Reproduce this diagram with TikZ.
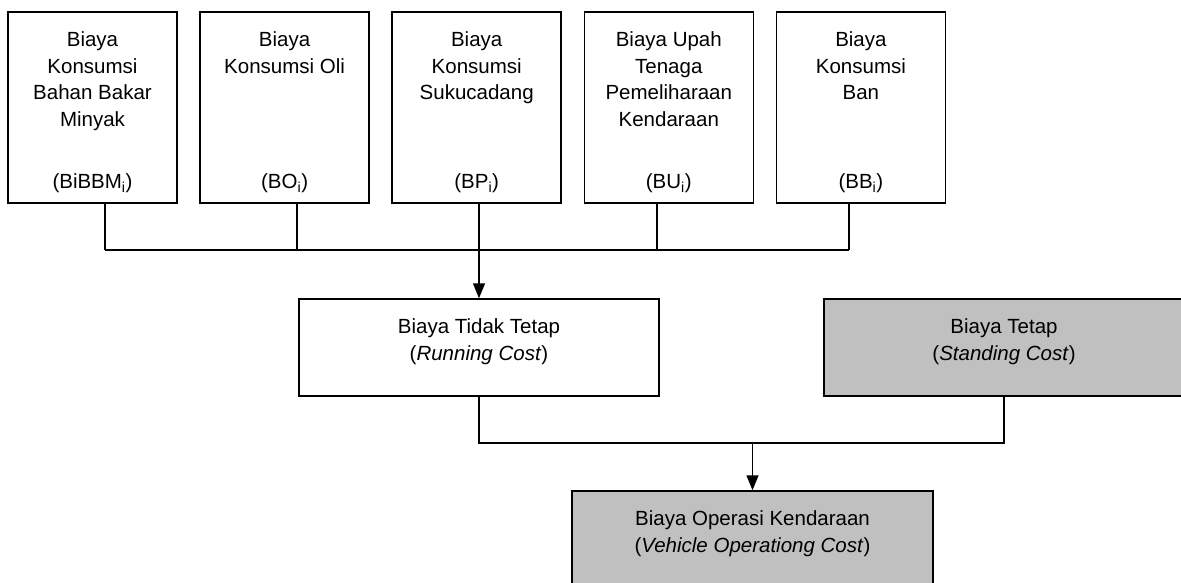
\documentclass[tikz,border=0pt]{standalone}
\usepackage{fontspec}
\setmainfont{Liberation Sans}
\usepackage{xcolor}
\usetikzlibrary{arrows.meta}
\definecolor{boxgray}{RGB}{192,192,192}

\begin{document}
\begin{tikzpicture}[x=1pt,y=-1pt,line width=1.5pt,
    topbox/.style={draw,minimum width=169pt,minimum height=191pt,inner sep=0pt},
    box/.style={draw,minimum width=#1,minimum height=97pt,inner sep=0pt},
    title/.style={anchor=north,align=center,inner sep=0pt,font=\fontsize{20.5}{26.5}\selectfont},
    code/.style={anchor=base,inner sep=0pt,font=\fontsize{20.5}{26.5}\selectfont},
    arr/.style={-{Triangle[length=15pt,width=12pt]}}]
  \useasboundingbox (0,0) rectangle (1181,582);
  \clip (0,0) rectangle (1181,582);
  \foreach \n/\x/\t/\c in {
      bbm/92.5/{Biaya\\Konsumsi\\Bahan Bakar\\Minyak}/{(BiBBM\textsubscript{i})},
      oli/284.6/{Biaya\\Konsumsi Oli}/{(BO\textsubscript{i})},
      suku/476.7/{Biaya\\Konsumsi\\Sukucadang}/{(BP\textsubscript{i})},
      upah/668.8/{Biaya Upah\\Tenaga\\Pemeliharaan\\Kendaraan}/{(BU\textsubscript{i})},
      ban/860.9/{Biaya\\Konsumsi\\Ban}/{(BB\textsubscript{i})}} {
    \node[topbox] (\n) at (\x,107.5) {};
    \node[title] (\n-t) at ([yshift=-20pt]\n.north) {\t};
    \node[code] (\n-c) at ([yshift=15pt]\n.south) {\c};
  }
  \node[box=360pt] (run) at (479,347.5) {};
  \node[title] (run-t) at ([yshift=-20pt]run.north) {Biaya Tidak Tetap\\(\textit{Running Cost})};
  \node[box=360pt,fill=boxgray] (std) at (1004,347.5) {};
  \node[title] (std-t) at ([yshift=-20pt]std.north) {Biaya Tetap\\(\textit{Standing Cost})};
  \node[box=361pt,fill=boxgray] (bok) at (752.5,539.5) {};
  \node[title] (bok-t) at ([yshift=-20pt]bok.north) {Biaya Operasi Kendaraan\\(\textit{Vehicle Operationg Cost})};
  \coordinate (bus) at (479,250);
  \coordinate (join) at (752.5,443);
  \foreach \n/\s in {bbm/12.5,oli/12.5,suku/2.3,upah/-11.8,ban/-11.9} {
    \draw ([xshift=\s pt]\n.south) -- ([xshift=\s pt]\n.south |- bus);
  }
  \draw ([xshift=12.5pt]bbm.south |- bus) -- ([xshift=-11.9pt]ban.south |- bus);
  \draw[arr] (bus) -- (run.north);
  \draw (run.south) -- (run.south |- join) -- (std.south |- join) -- (std.south);
  \draw[arr] (join) -- (bok.north);
\end{tikzpicture}
\end{document}
